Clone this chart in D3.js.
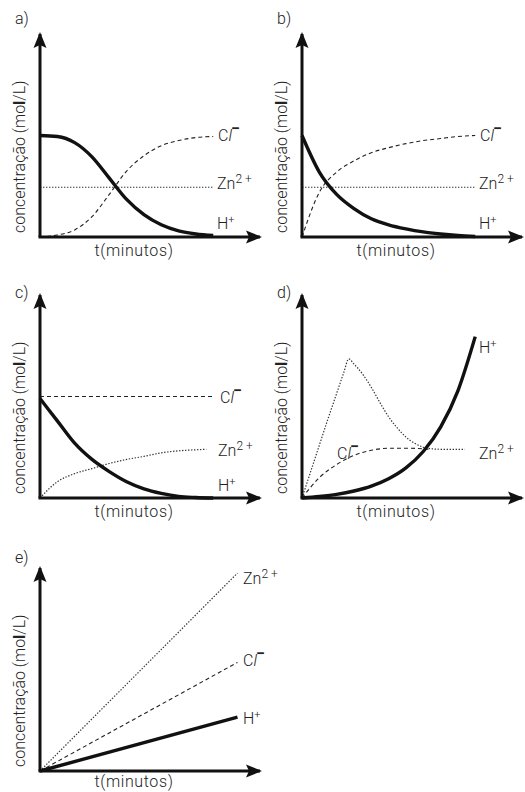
<!DOCTYPE html>
<html>
<head>
<meta charset="utf-8">
<script src="https://cdn.jsdelivr.net/npm/d3@7"></script>
<style>
body { margin: 0; background: #fff; }
text { font-family: Roboto, "Liberation Sans", sans-serif; font-weight: 300; fill: #222; }
</style>
</head>
<body>
<script>
// time axis (minutos), same grid for most curves
const tGrid = [0, 1, 2, 3, 4, 5, 6, 7, 8, 9, 10]

// a)
const hA = [10, 9.9, 9.3, 7.9, 5.8, 3.7, 2.2, 1.2, 0.6, 0.3, 0.15]
const clA = [0, 0.2, 0.7, 2.0, 4.2, 6.5, 8.0, 9.0, 9.5, 9.8, 9.9]
const znA = [4.9, 4.9, 4.9, 4.9, 4.9, 4.9, 4.9, 4.9, 4.9, 4.9, 4.9]

// b)
const hB = [10, 6.4, 4.2, 2.8, 1.8, 1.2, 0.8, 0.5, 0.3, 0.15, 0.05]
const clB = [0, 4.4, 6.4, 7.5, 8.3, 8.8, 9.2, 9.5, 9.7, 9.9, 10]
const znB = [4.9, 4.9, 4.9, 4.9, 4.9, 4.9, 4.9, 4.9, 4.9, 4.9, 4.9]

// c)
const hC = [9.8, 7.6, 5.4, 3.8, 2.6, 1.6, 0.9, 0.45, 0.15, 0.05, 0]
const clC = [10, 10, 10, 10, 10, 10, 10, 10, 10, 10, 10]
const tZnC = [0, 1, 2, 3, 4, 5, 6, 7, 8, 9, 9.6]
const znC = [0, 1.6, 2.4, 2.9, 3.4, 3.8, 4.1, 4.45, 4.65, 4.75, 4.8]

// d)
const hD = [0, 0.15, 0.36, 0.69, 1.17, 1.9, 2.97, 4.58, 6.98, 10.56, 15.9]
const tClD = [0, 1, 2, 3, 4, 5, 6, 7, 7.3]
const clD = [0, 2.0, 3.3, 4.2, 4.7, 4.9, 4.9, 4.85, 4.8]
const tZnD = [0, 0.5, 1, 1.5, 2, 2.4, 2.7, 3, 3.5, 4, 4.5, 5, 5.5, 6, 6.5, 7, 7.5, 8, 9, 9.4]
const znD = [0, 2.6, 5.2, 7.8, 10.3, 12.3, 13.7, 13.2, 12.2, 10.9, 9.4, 8.0, 6.9, 6.0, 5.4, 5.0, 4.85, 4.8, 4.8, 4.8]

// e)
const tE = [0, 11.4]
const hE = [0, 5.3]
const clE = [0, 10.7]
const znE = [0, 19.5]

const W = 525, H = 792
const svg = d3.select('body').append('svg')
    .attr('width', W)
    .attr('height', H)

svg.append('defs').append('marker')
    .attr('id', 'arrow')
    .attr('viewBox', '0 -7 16 14')
    .attr('refX', 14).attr('refY', 0)
    .attr('markerWidth', 16).attr('markerHeight', 14)
    .attr('markerUnits', 'userSpaceOnUse')
    .attr('orient', 'auto')
  .append('path')
    .attr('d', 'M0,-6.5L16,0L0,6.5L3,0Z')
    .attr('fill', '#111')

const x = d3.scaleLinear().domain([0, 12.7]).range([0, 220])
const y = d3.scaleLinear().domain([0, 20]).range([0, -203])

const styles = {
    h: { width: 3.4, dash: null, color: '#111' },
    cl: { width: 1.1, dash: '4,3', color: '#222' },
    zn: { width: 1.2, dash: '1.4,1.6', color: '#333' }
}

const line = d3.line()
    .x(d => x(d[0]))
    .y(d => y(d[1]))
    .curve(d3.curveMonotoneX)

function zip(t, v) { return t.map((d, i) => [d, v[i]]) }

function label(g, kind, px, py) {
    const t = g.append('text').attr('x', px).attr('y', py).style('font-size', '16px')
    if (kind == 'h') {
        t.append('tspan').text('H')
        t.append('tspan').attr('dy', -6).style('font-size', '11px').text('+')
    } else if (kind == 'zn') {
        t.append('tspan').text('Zn')
        t.append('tspan').attr('dy', -6).style('font-size', '12px').text('2 +')
    } else {
        t.append('tspan').text('C')
        t.append('tspan').style('font-style', 'italic').text('l')
        t.append('tspan').attr('dy', -7).attr('dx', -1)
            .style('font-weight', 700).style('font-size', '16px').text('\u2212')
    }
}

const panels = [
    { name: 'a)', ox: 40, oy: 237, nx: 15, ny: 24, ty: 19,
      series: [['zn', tGrid, znA], ['cl', tGrid, clA], ['h', tGrid, hA]],
      labels: [['cl', 178, -96], ['zn', 177, -48], ['h', 177, -8]] },
    { name: 'b)', ox: 302, oy: 237, nx: 277, ny: 24, ty: 19,
      series: [['zn', tGrid, znB], ['cl', tGrid, clB], ['h', tGrid, hB]],
      labels: [['cl', 178, -96], ['zn', 177, -48], ['h', 177, -8]] },
    { name: 'c)', ox: 40, oy: 498, nx: 15, ny: 298, ty: 19,
      series: [['zn', tZnC, znC], ['cl', tGrid, clC], ['h', tGrid, hC]],
      labels: [['cl', 180, -95], ['zn', 178, -42], ['h', 178, -7]] },
    { name: 'd)', ox: 302, oy: 498, nx: 277, ny: 298, ty: 19,
      series: [['zn', tZnD, znD], ['cl', tClD, clD], ['h', tGrid, hD]],
      labels: [['h', 177, -145], ['cl', 35, -39], ['zn', 177, -39]] },
    { name: 'e)', ox: 40, oy: 771, nx: 15, ny: 563, ty: 16,
      series: [['zn', tE, znE], ['cl', tE, clE], ['h', tE, hE]],
      labels: [['zn', 203, -187], ['cl', 203, -105], ['h', 203, -47]] }
]

panels.forEach(function(p) {
    svg.append('text')
        .attr('x', p.nx).attr('y', p.ny)
        .style('font-size', '16px')
        .text(p.name)

    const g = svg.append('g').attr('transform', `translate(${p.ox},${p.oy})`)

    p.series.forEach(function(s) {
        const st = styles[s[0]]
        g.append('path')
            .datum(zip(s[1], s[2]))
            .attr('d', line)
            .attr('fill', 'none')
            .attr('stroke', st.color)
            .attr('stroke-width', st.width)
            .attr('stroke-dasharray', st.dash)
    })

    // axes with arrow heads
    g.append('line')
        .attr('x1', x(0)).attr('y1', y(0))
        .attr('x2', x(0)).attr('y2', y(20))
        .attr('stroke', '#111').attr('stroke-width', 3)
        .attr('marker-end', 'url(#arrow)')
    g.append('line')
        .attr('x1', x(0) - 1.5).attr('y1', y(0))
        .attr('x2', x(12.7)).attr('y2', y(0))
        .attr('stroke', '#111').attr('stroke-width', 3)
        .attr('marker-end', 'url(#arrow)')

    g.append('text')
        .attr('x', 94).attr('y', p.ty)
        .attr('text-anchor', 'middle')
        .style('font-size', '16px')
        .style('letter-spacing', '0.6px')
        .text('t(minutos)')

    const yl = g.append('text')
        .attr('transform', 'translate(-15,-4) rotate(-90)')
        .style('font-size', '16px')
    yl.append('tspan').text('concentração (mo')
    yl.append('tspan').style('font-weight', 700).text('l')
    yl.append('tspan').text('/L)')

    p.labels.forEach(l => label(g, l[0], l[1], l[2]))
})
</script>
</body>
</html>
